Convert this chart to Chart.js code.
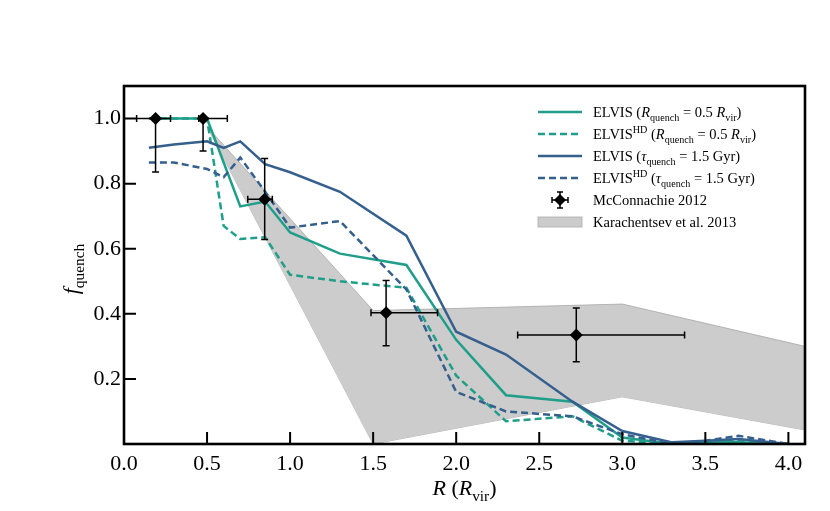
<!DOCTYPE html>
<html>
<head>
<meta charset="utf-8">
<script src="https://cdn.jsdelivr.net/npm/chart.js@4.4.0/dist/chart.umd.min.js"></script>
<style>
  html, body { margin: 0; padding: 0; background: #fff; }
  #wrap { width: 830px; height: 511px; position: relative; }
</style>
</head>
<body>
<div id="wrap"><canvas id="chartQuench"></canvas></div>
<script>
// === Data ===
// radial bins (R / R_vir) shared by the ELVIS curves
const rBins      = [0.15, 0.3, 0.5, 0.6, 0.7, 0.85, 1.0, 1.3, 1.7, 2.0, 2.3, 2.7, 3.0, 3.3, 3.5, 3.7, 4.0];
const elvisR05   = [1.0, 1.0, 1.0, 0.865, 0.73, 0.745, 0.65, 0.585, 0.55, 0.32, 0.15, 0.13, 0.02, 0.0, 0.005, 0.005, 0.0];
const elvisHdR05 = [1.0, 1.0, 1.0, 0.67, 0.63, 0.635, 0.52, 0.50, 0.48, 0.21, 0.07, 0.085, 0.01, 0.0, 0.005, 0.01, 0.0];
const elvisTau   = [0.91, 0.92, 0.93, 0.91, 0.93, 0.86, 0.835, 0.775, 0.64, 0.345, 0.275, 0.13, 0.04, 0.005, 0.01, 0.015, 0.0];
const elvisHdTau = [0.865, 0.865, 0.845, 0.82, 0.88, 0.775, 0.665, 0.685, 0.475, 0.16, 0.10, 0.085, 0.03, 0.0, 0.01, 0.025, 0.0];

// Karachentsev et al. 2013 band
const karR  = [0.5, 1.5, 3.0, 4.1];
const karHi = [0.975, 0.41, 0.43, 0.30];
const karLo = [0.975, 0.0, 0.145, 0.043];

// McConnachie 2012 points with errors
const mcR   = [0.19, 0.476, 0.847, 1.578, 2.723];
const mcF   = [1.0, 1.0, 0.752, 0.403, 0.335];
const mcRlo = [0.076, 0.45, 0.745, 1.487, 2.37];
const mcRhi = [0.28, 0.622, 0.893, 1.888, 3.375];
const mcFlo = [0.836, 0.90, 0.628, 0.302, 0.253];
const mcFhi = [1.0, 1.0, 0.877, 0.502, 0.418];

const xTicks = [0.0, 0.5, 1.0, 1.5, 2.0, 2.5, 3.0, 3.5, 4.0];
const yTicks = [0.2, 0.4, 0.6, 0.8, 1.0];

const GREEN = '#1f9e89';
const BLUE = '#355f8d';
const FONT = '"Liberation Serif", "DejaVu Serif", serif';

const legendRows = [
  [{t: 'ELVIS ('}, {t: 'R', it: 1}, {t: 'quench', sub: 1}, {t: ' = 0.5 '}, {t: 'R', it: 1}, {t: 'vir', sub: 1}, {t: ')'}],
  [{t: 'ELVIS'}, {t: 'HD', sup: 1}, {t: ' ('}, {t: 'R', it: 1}, {t: 'quench', sub: 1}, {t: ' = 0.5 '}, {t: 'R', it: 1}, {t: 'vir', sub: 1}, {t: ')'}],
  [{t: 'ELVIS ('}, {t: 'τ', it: 1}, {t: 'quench', sub: 1}, {t: ' = 1.5 Gyr)'}],
  [{t: 'ELVIS'}, {t: 'HD', sup: 1}, {t: ' ('}, {t: 'τ', it: 1}, {t: 'quench', sub: 1}, {t: ' = 1.5 Gyr)'}],
  [{t: 'McConnachie 2012'}],
  [{t: 'Karachentsev et al. 2013'}]
];
const xTitle = [{t: 'R', it: 1}, {t: ' ('}, {t: 'R', it: 1}, {t: 'vir', sub: 1}, {t: ')'}];
const yTitle = [{t: 'f', it: 1}, {t: 'quench', sub: 1}];

const pts = (xs, ys) => xs.map((x, i) => ({x: x, y: ys[i]}));

// draws text with italic / sub / superscript pieces, returns width
function drawRich(ctx, segs, x, y, size, measureOnly) {
  let cx = x;
  segs.forEach(s => {
    const sz = (s.sub || s.sup) ? size * 0.7 : size;
    ctx.font = (s.it ? 'italic ' : '') + sz + 'px ' + FONT;
    const dy = s.sub ? size * 0.25 : (s.sup ? -size * 0.38 : 0);
    if (!measureOnly) ctx.fillText(s.t, cx, y + dy);
    cx += ctx.measureText(s.t).width;
  });
  return cx - x;
}

function errBar(ctx, x0, y0, x1, y1, vertical, cap) {
  ctx.beginPath();
  ctx.moveTo(x0, y0); ctx.lineTo(x1, y1);
  if (vertical) {
    ctx.moveTo(x0 - cap, y0); ctx.lineTo(x0 + cap, y0);
    ctx.moveTo(x1 - cap, y1); ctx.lineTo(x1 + cap, y1);
  } else {
    ctx.moveTo(x0, y0 - cap); ctx.lineTo(x0, y0 + cap);
    ctx.moveTo(x1, y1 - cap); ctx.lineTo(x1, y1 + cap);
  }
  ctx.stroke();
}

// error bars, frame, inward ticks, axis titles and legend
const decorations = {
  id: 'decorations',
  afterDatasetsDraw(chart) {
    const ctx = chart.ctx, xs = chart.scales.x, ys = chart.scales.y;
    ctx.save();
    ctx.strokeStyle = '#000';
    ctx.lineWidth = 1.5;
    mcR.forEach((r, i) => {
      const px = xs.getPixelForValue(r), py = ys.getPixelForValue(mcF[i]);
      errBar(ctx, xs.getPixelForValue(mcRlo[i]), py, xs.getPixelForValue(mcRhi[i]), py, false, 3.5);
      if (mcFhi[i] > mcF[i]) {
        errBar(ctx, px, ys.getPixelForValue(mcFhi[i]), px, ys.getPixelForValue(mcFlo[i]), true, 3.5);
      } else {
        const lo = ys.getPixelForValue(mcFlo[i]);
        ctx.beginPath();
        ctx.moveTo(px, py); ctx.lineTo(px, lo);
        ctx.moveTo(px - 3.5, lo); ctx.lineTo(px + 3.5, lo);
        ctx.stroke();
      }
    });
    ctx.restore();
  },
  afterDraw(chart) {
    const ctx = chart.ctx, a = chart.chartArea, xs = chart.scales.x, ys = chart.scales.y;
    ctx.save();
    // inward ticks
    ctx.strokeStyle = '#000';
    ctx.lineWidth = 2;
    ctx.beginPath();
    xTicks.forEach(v => {
      const px = xs.getPixelForValue(v);
      ctx.moveTo(px, a.bottom); ctx.lineTo(px, a.bottom - 12);
    });
    yTicks.forEach(v => {
      const py = ys.getPixelForValue(v);
      ctx.moveTo(a.left, py); ctx.lineTo(a.left + 12, py);
    });
    ctx.stroke();
    // frame
    ctx.lineWidth = 2.6;
    ctx.strokeRect(a.left, a.top, a.right - a.left, a.bottom - a.top);

    // axis titles
    ctx.fillStyle = '#000';
    ctx.textBaseline = 'alphabetic';
    ctx.textAlign = 'left';
    const tw = drawRich(ctx, xTitle, 0, 0, 22, true);
    drawRich(ctx, xTitle, (a.left + a.right) / 2 - tw / 2, 495, 22);
    const yw = drawRich(ctx, yTitle, 0, 0, 22, true);
    ctx.save();
    ctx.translate(78, (a.top + a.bottom) / 2 + 4);
    ctx.rotate(-Math.PI / 2);
    drawRich(ctx, yTitle, -yw / 2, 0, 22);
    ctx.restore();

    // legend
    const lx = a.right - 267, tx = lx + 55;
    const rowY = i => a.top + 26 + i * 22;
    const styles = [
      {c: GREEN, d: []}, {c: GREEN, d: [7, 4]}, {c: BLUE, d: []}, {c: BLUE, d: [7, 4]}
    ];
    styles.forEach((s, i) => {
      ctx.strokeStyle = s.c;
      ctx.lineWidth = 2.5;
      ctx.setLineDash(s.d);
      ctx.beginPath();
      ctx.moveTo(lx, rowY(i)); ctx.lineTo(lx + 44, rowY(i));
      ctx.stroke();
    });
    ctx.setLineDash([]);
    // errorbar marker
    const mx = lx + 22, my = rowY(4);
    ctx.strokeStyle = '#000';
    ctx.lineWidth = 1.5;
    errBar(ctx, mx - 8, my, mx + 8, my, false, 3);
    errBar(ctx, mx, my - 8, mx, my + 8, true, 3);
    ctx.beginPath();
    ctx.moveTo(mx, my - 6); ctx.lineTo(mx + 6, my); ctx.lineTo(mx, my + 6); ctx.lineTo(mx - 6, my);
    ctx.closePath();
    ctx.fill();
    // band patch
    ctx.fillStyle = '#cccccc';
    ctx.fillRect(lx, rowY(5) - 5, 44, 10);
    ctx.strokeStyle = '#aaaaaa';
    ctx.lineWidth = 0.8;
    ctx.strokeRect(lx, rowY(5) - 5, 44, 10);
    // labels
    ctx.fillStyle = '#000';
    legendRows.forEach((segs, i) => drawRich(ctx, segs, tx, rowY(i) + 5, 14.5));
    ctx.restore();
  }
};

const ctxQ = document.getElementById('chartQuench');
new Chart(ctxQ, {
  type: 'line',
  data: {
    datasets: [
      {
        type: 'scatter', label: 'McConnachie 2012', data: pts(mcR, mcF),
        pointStyle: 'rectRot', pointRadius: 6.5, backgroundColor: '#000', borderColor: '#000', borderWidth: 0, order: 0
      },
      { label: 'ELVIS R05', data: pts(rBins, elvisR05), borderColor: GREEN, borderWidth: 2.5, pointRadius: 0, order: 2 },
      { label: 'ELVIS HD R05', data: pts(rBins, elvisHdR05), borderColor: GREEN, borderWidth: 2.5, borderDash: [7, 4], pointRadius: 0, order: 2 },
      { label: 'ELVIS tau', data: pts(rBins, elvisTau), borderColor: BLUE, borderWidth: 2.5, pointRadius: 0, order: 1 },
      { label: 'ELVIS HD tau', data: pts(rBins, elvisHdTau), borderColor: BLUE, borderWidth: 2.5, borderDash: [7, 4], pointRadius: 0, order: 1 },
      {
        label: 'Karachentsev upper', data: pts(karR, karHi), borderColor: '#a8a8a8', borderWidth: 0.8,
        backgroundColor: '#cccccc', fill: '+1', pointRadius: 0, order: 10
      },
      {
        label: 'Karachentsev lower', data: pts(karR, karLo), borderColor: '#a8a8a8', borderWidth: 0.8,
        fill: false, pointRadius: 0, order: 10
      }
    ]
  },
  options: {
    responsive: true,
    maintainAspectRatio: false,
    animation: false,
    layout: { padding: { left: 0, top: 86, right: 25, bottom: 0 } },
    plugins: {
      legend: { display: false },
      tooltip: { enabled: false }
    },
    scales: {
      x: {
        type: 'linear', min: 0, max: 4.1,
        grid: { display: false, drawTicks: false },
        border: { display: false },
        afterBuildTicks: s => { s.ticks = xTicks.map(v => ({value: v})); },
        afterFit: s => { s.height = 67; },
        ticks: {
          color: '#000', padding: 7, maxRotation: 0, autoSkip: false,
          font: { family: FONT, size: 22 },
          callback: v => Number(v).toFixed(1)
        }
      },
      y: {
        type: 'linear', min: 0, max: 1.1,
        grid: { display: false, drawTicks: false },
        border: { display: false },
        afterBuildTicks: s => { s.ticks = yTicks.map(v => ({value: v})); },
        afterFit: s => { s.width = 124; },
        ticks: {
          color: '#000', padding: 3, autoSkip: false,
          font: { family: FONT, size: 22 },
          callback: v => Number(v).toFixed(1)
        }
      }
    }
  },
  plugins: [decorations]
});
</script>
</body>
</html>
